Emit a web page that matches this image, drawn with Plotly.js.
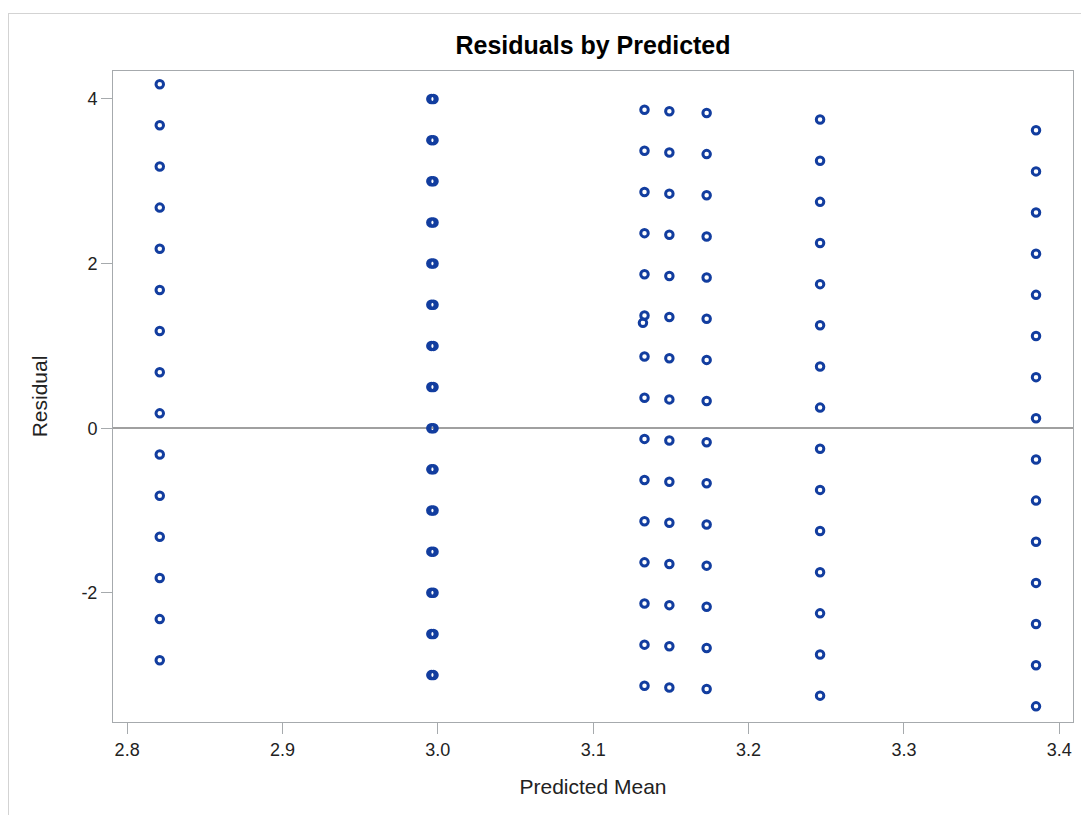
<!DOCTYPE html>
<html>
<head>
<meta charset="utf-8">
<script src="https://cdn.plot.ly/plotly-3.0.1.min.js"></script>
<style>
  html, body { margin: 0; padding: 0; background: #ffffff; }
  #chart { width: 1081px; height: 815px; }
  #frame { position: absolute; left: 8px; top: 13px; width: 1100px; height: 900px;
           border: 1px solid #d3d3d3; pointer-events: none; box-sizing: border-box; }
</style>
</head>
<body>
<div id="chart"></div>
<div id="frame"></div>
<script>
// Predicted mean for each vertical column of points
const predicted = [2.821, 2.9958, 2.9972, 3.133, 3.132, 3.149, 3.173, 3.246, 3.385];

// Residuals, one list per column
const resid_2821 = [4.18, 3.68, 3.18, 2.68, 2.18, 1.68, 1.18, 0.68, 0.18, -0.32, -0.82, -1.32, -1.82, -2.32, -2.82];
const resid_2996 = [4.00, 3.50, 3.00, 2.50, 2.00, 1.50, 1.00, 0.50, 0.00, -0.50, -1.00, -1.50, -2.00, -2.50, -3.00];
const resid_2997 = [4.00, 3.50, 3.00, 2.50, 2.00, 1.50, 1.00, 0.50, 0.00, -0.50, -1.00, -1.50, -2.00, -2.50, -3.00];
const resid_3133 = [3.87, 3.37, 2.87, 2.37, 1.87, 1.37, 0.87, 0.37, -0.13, -0.63, -1.13, -1.63, -2.13, -2.63, -3.13];
const resid_3132 = [1.28];
const resid_3149 = [3.85, 3.35, 2.85, 2.35, 1.85, 1.35, 0.85, 0.35, -0.15, -0.65, -1.15, -1.65, -2.15, -2.65, -3.15];
const resid_3173 = [3.83, 3.33, 2.83, 2.33, 1.83, 1.33, 0.83, 0.33, -0.17, -0.67, -1.17, -1.67, -2.17, -2.67, -3.17];
const resid_3246 = [3.75, 3.25, 2.75, 2.25, 1.75, 1.25, 0.75, 0.25, -0.25, -0.75, -1.25, -1.75, -2.25, -2.75, -3.25];
const resid_3385 = [3.62, 3.12, 2.62, 2.12, 1.62, 1.12, 0.62, 0.12, -0.38, -0.88, -1.38, -1.88, -2.38, -2.88, -3.38];

const residualColumns = [resid_2821, resid_2996, resid_2997, resid_3133, resid_3132,
                         resid_3149, resid_3173, resid_3246, resid_3385];

const xTickVals = [2.8, 2.9, 3.0, 3.1, 3.2, 3.3, 3.4];
const xTickText = ["2.8", "2.9", "3.0", "3.1", "3.2", "3.3", "3.4"];
const yTickVals = [-2, 0, 2, 4];
const yTickText = ["-2", "0", "2", "4"];

const xs = [], ys = [];
residualColumns.forEach((col, i) => {
  col.forEach(r => { xs.push(predicted[i]); ys.push(r); });
});

const FONT = '"Liberation Sans", Arial, sans-serif';
const AXIS_GRAY = '#a6aaad';

const trace = {
  type: 'scatter',
  mode: 'markers',
  x: xs,
  y: ys,
  marker: {
    symbol: 'circle-open',
    size: 7.5,
    color: '#123d9f',
    line: { width: 3, color: '#123d9f' }
  },
  hoverinfo: 'x+y',
  showlegend: false
};

const layout = {
  width: 1081,
  height: 815,
  margin: { l: 113, r: 8, t: 71, b: 93, pad: 0 },
  paper_bgcolor: '#ffffff',
  plot_bgcolor: '#ffffff',
  font: { family: FONT, color: '#222222' },
  title: {
    text: '<b>Residuals by Predicted</b>',
    font: { family: FONT, size: 25, color: '#000000' },
    x: 0.5, xref: 'paper', xanchor: 'center',
    y: 1 - 45 / 815, yref: 'container', yanchor: 'middle'
  },
  xaxis: {
    range: [2.7909, 3.4088],
    tickvals: xTickVals,
    ticktext: xTickText,
    ticks: 'outside',
    ticklen: 11,
    tickwidth: 1,
    tickcolor: AXIS_GRAY,
    tickfont: { family: FONT, size: 18, color: '#222222' },
    showgrid: false,
    zeroline: false,
    showline: true,
    linecolor: AXIS_GRAY,
    linewidth: 1,
    mirror: true,
    automargin: false,
    title: { text: 'Predicted Mean', font: { family: FONT, size: 21, color: '#222222' }, standoff: 20 }
  },
  yaxis: {
    range: [-3.57, 4.34],
    tickvals: yTickVals,
    ticktext: yTickText,
    ticks: 'outside',
    ticklen: 11,
    tickwidth: 1,
    tickcolor: AXIS_GRAY,
    tickfont: { family: FONT, size: 18, color: '#222222' },
    showgrid: false,
    zeroline: true,
    zerolinecolor: '#a0a0a0',
    zerolinewidth: 1.5,
    showline: true,
    linecolor: AXIS_GRAY,
    linewidth: 1,
    mirror: true,
    automargin: false,
    title: { text: 'Residual', font: { family: FONT, size: 21, color: '#222222' }, standoff: 28 }
  }
};

Plotly.newPlot('chart', [trace], layout, { displayModeBar: false, staticPlot: true });
</script>
</body>
</html>
